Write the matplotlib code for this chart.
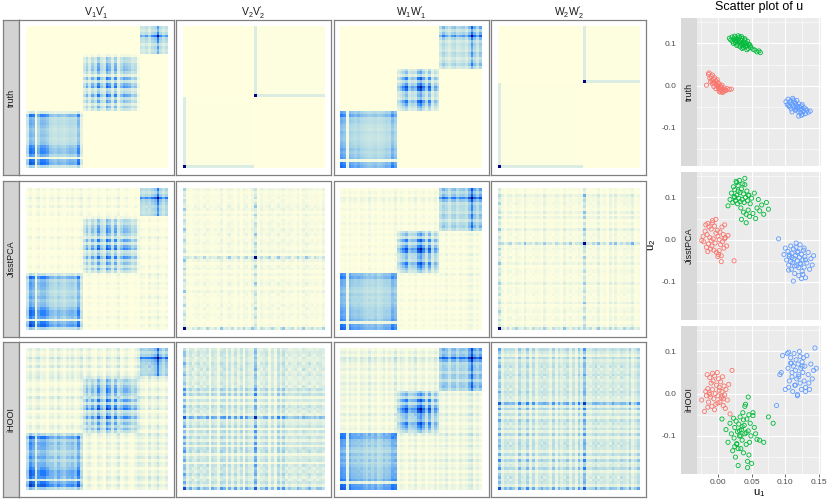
import numpy as np
import matplotlib
matplotlib.use("Agg")
import matplotlib.pyplot as plt
from matplotlib.colors import LinearSegmentedColormap

plt.rcParams['font.family'] = ['Liberation Sans', 'DejaVu Sans']
plt.rcParams['mathtext.fontset'] = 'custom'
plt.rcParams['mathtext.rm'] = 'Liberation Sans'

W, H = 830, 500

# ---------------- heatmap data (values in hundredths) ----------------
# truth loadings, one value per variable, with block membership
v1_truth = [35, 82, 75, 10, 55, 72, 70, 62, 45, 42, 40, 45, 42, 40, 45, 50, 48, 45, 72, 20,
            30, 50, 25, 55, 35, 75, 40, 30, 80, 65, 30, 70, 20, 45, 60, 55, 50, 35, 40, 10,
            40, 35, 45, 30, 50, 55, 100, 50, 35, 45]
v1_group = [0]*20 + [1]*20 + [2]*10
w1_truth = [78, 70, 10, 60, 55, 50, 55, 48, 45, 42, 40, 42, 45, 40, 42, 45, 50, 48, 70, 55,
            30, 40, 55, 75, 35, 45, 40, 80, 95, 60, 35, 70, 25, 45, 30,
            35, 55, 40, 30, 45, 50, 35, 40, 45, 35, 55, 100, 60, 40, 65]
w1_group = [0]*20 + [1]*15 + [2]*15

v2_truth = [100, 12, 12, 12, 12, 12, 12, 12, 12, 12, 12, 12, 12, 12, 12, 12, 12, 12, 12, 12, 12, 12, 12, 12, 12,
            100, 12, 12, 12, 12, 12, 12, 12, 12, 12, 12, 12, 12, 12, 12, 12, 12, 12, 12, 12, 12, 12, 12, 12, 12]
v2_group = [0]*25 + [1]*25
w2_truth = [100, 12, 12, 12, 12, 12, 12, 12, 12, 12, 12, 12, 12, 12, 12, 12, 12, 12, 12, 12,
            12, 12, 12, 12, 12, 12, 12, 12, 12, 12,
            100, 12, 12, 12, 12, 12, 12, 12, 12, 12, 12, 12, 12, 12, 12, 12, 12, 12, 12, 12]
w2_group = [0]*30 + [1]*20

# off-block leakage of the estimates
noise_v1_jisst = [12, 25, 8, 15, 30, 10, 20, 5, 18, 22, 10, 28, 15, 8, 20, 12, 25, 10, 18, 30,
                  5, 15, 22, 10, 8, 20, 12, 5, 25, 18, 10, 15, 30, 8, 12, 20, 10, 5, 15, 8,
                  28, 20, 10, 35, 15, 22, 40, 18, 12, 25]
noise_w1_jisst = [15, 20, 10, 25, 12, 18, 8, 22, 15, 10, 28, 12, 20, 8, 15, 25, 10, 18, 12, 30,
                  10, 22, 15, 8, 20, 12, 28, 10, 15, 22, 8, 18, 12, 25, 10,
                  20, 15, 30, 12, 22, 18, 10, 25, 15, 20, 35, 40, 15, 25, 12]
noise_v1_ihooi = [20, 35, 15, 30, 40, 18, 25, 10, 30, 35, 15, 40, 22, 12, 30, 18, 35, 15, 25, 40,
                  12, 25, 35, 15, 10, 30, 20, 8, 40, 28, 15, 22, 45, 12, 18, 30, 15, 10, 25, 40,
                  35, 30, 15, 45, 20, 30, 55, 25, 18, 35]
noise_w1_ihooi = [25, 30, 15, 35, 20, 28, 12, 30, 22, 15, 40, 18, 30, 12, 20, 35, 15, 28, 18, 45,
                  15, 30, 22, 12, 28, 18, 40, 15, 22, 30, 12, 25, 18, 35, 15,
                  30, 22, 40, 18, 30, 25, 15, 35, 22, 28, 45, 55, 20, 35, 18]

# second component estimates: two loading vectors each
v2a_jisst = [100, 10, 5, 15, 8, 20, 12, 5, 25, 10, 8, 15, 5, 30, 10, 12, 8, 20, 5, 15, 10, 25, 8, 12, 30,
             10, 5, 20, 15, 8, 12, 25, 10, 5, 18, 30, 8, 12, 20, 5, 15, 10, 28, 8, 12, 20, 5, 15, 10, 25]
v2b_jisst = [8, 15, 10, 5, 20, 12, 8, 25, 5, 15, 10, 8, 20, 12, 5, 15, 30, 8, 10, 20, 5, 12, 25, 8, 15,
             100, 10, 20, 8, 15, 25, 5, 12, 30, 10, 8, 15, 20, 5, 12, 25, 8, 10, 30, 15, 5, 20, 12, 8, 15]
w2a_jisst = [100, 12, 8, 20, 5, 15, 25, 10, 8, 18, 12, 5, 22, 10, 15, 8, 25, 12, 5, 20, 10, 15, 8, 30, 12,
             5, 18, 10, 25, 8, 15, 10, 20, 5, 12, 28, 8, 15, 10, 22, 5, 18, 12, 8, 25, 10, 15, 20, 8, 12]
w2b_jisst = [10, 20, 8, 15, 25, 5, 12, 18, 8, 30, 10, 15, 5, 20, 12, 8, 25, 10, 15, 5, 22, 12, 8, 18, 10,
             28, 5, 15, 12, 20, 100, 15, 8, 22, 12, 28, 10, 15, 5, 25, 12, 30, 8, 18, 10, 22, 15, 35, 8, 12]
v2a_ihooi = [80, 25, 40, 10, 30, 45, 15, 35, 20, 8, 40, 25, 15, 50, 30, 10, 35, 20, 45, 15, 25, 8, 40, 30, 20,
             55, 10, 35, 20, 45, 15, 30, 8, 40, 25, 50, 10, 35, 20, 15, 40, 30, 8, 25, 45, 20, 10, 35, 30, 15]
v2b_ihooi = [30, 10, 25, 40, 8, 20, 35, 15, 45, 10, 25, 30, 8, 20, 40, 15, 35, 10, 25, 20, 45, 8, 30, 15, 20,
             75, 25, 10, 35, 20, 8, 30, 15, 40, 10, 25, 35, 8, 20, 30, 15, 10, 45, 25, 8, 20, 35, 10, 25, 30]
w2a_ihooi = [75, 20, 35, 15, 45, 25, 10, 40, 30, 15, 50, 20, 35, 10, 25, 45, 15, 30, 20, 40, 10, 35, 25, 15, 45,
             20, 30, 10, 40, 25, 55, 15, 30, 20, 45, 10, 35, 25, 15, 40, 20, 30, 10, 45, 25, 15, 35, 20, 30, 40]
w2b_ihooi = [35, 15, 25, 40, 10, 30, 20, 45, 15, 25, 35, 10, 40, 20, 30, 15, 45, 25, 10, 35, 20, 30, 15, 40, 25,
             10, 35, 20, 45, 15, 70, 25, 10, 35, 20, 40, 15, 30, 25, 10, 45, 20, 35, 15, 30, 25, 40, 10, 20, 35]

row_names = ["truth", "JisstPCA", "iHOOI"]
col_names = [r"$\mathregular{V_1V_1^{\prime}}$", r"$\mathregular{V_2V_2^{\prime}}$",
             r"$\mathregular{W_1W_1^{\prime}}$", r"$\mathregular{W_2W_2^{\prime}}$"]

# ---------------- scatter data (thousandths) ----------------
truth_red_x = [-17, -14, -13, -12, -10, -9, -8, -7, -6, -5, -4, -3, -2, -1, 0, 0, 1, 2, 3, 4,
               5, 6, 7, 8, 9, 10, 12, 14, 17, 20, -11, -6, -3, 2, 5, -8, -1, 3, 7, 11]
truth_red_y = [1, 27, 30, 18, 22, 13, 25, 8, 15, 19, 5, 11, 2, 14, -3, 7, -6, 4, -9, -2,
               -12, 1, -8, -14, -5, -10, -11, -7, -9, -8, 9, -2, -7, -13, -4, 4, 0, -15, -16, -12]
truth_green_x = [17, 19, 21, 22, 24, 25, 26, 27, 28, 29, 30, 31, 32, 33, 34, 35, 36, 37, 38, 39,
                 40, 41, 42, 43, 44, 45, 47, 49, 52, 55, 58, 61, 63, 23, 28, 33, 38, 43, 48, 30,
                 35, 40, 45, 26, 36]
truth_green_y = [112, 108, 115, 104, 110, 117, 101, 113, 106, 98, 110, 103, 115, 96, 107, 100, 112, 94, 104, 99,
                 108, 92, 101, 95, 105, 88, 97, 90, 86, 84, 80, 82, 78, 100, 95, 92, 90, 85, 94, 118,
                 116, 111, 98, 106, 88]
truth_blue_x = [101, 103, 104, 106, 107, 108, 109, 110, 111, 112, 113, 114, 115, 116, 117, 118, 119, 120, 121, 122,
                123, 124, 125, 126, 127, 128, 130, 132, 134, 137, 105, 110, 115, 120, 125, 130, 112, 118, 124, 116]
truth_blue_y = [-38, -45, -32, -50, -41, -36, -55, -44, -30, -48, -52, -39, -58, -46, -35, -53, -61, -43, -50, -57,
                -64, -48, -55, -68, -60, -52, -66, -58, -63, -60, -47, -62, -42, -72, -45, -55, -34, -49, -70, -56]

jisst_red_x = [-24, -22, -21, -19, -18, -17, -16, -15, -14, -13, -12, -11, -10, -9, -8, -7, -6, -5, -4, -3,
               -2, -1, 0, 1, 2, 3, 4, 5, 6, 7, 8, 9, 10, 11, 13, 15, -15, -8, 0, 5, 10, -3, 2, -10, 24]
jisst_red_y = [-2, 8, -5, 20, 35, -18, 12, 38, -10, 30, 5, -22, 25, -15, 40, 2, -25, 32, -8, 15,
               -30, 22, 8, -35, 0, 18, -12, -38, 30, -5, 12, -20, 35, 5, -15, 10, -28, 45, -40, -52,
               2, 48, -26, -2, -50]
jisst_green_x = [15, 18, 20, 22, 23, 24, 25, 26, 27, 28, 29, 30, 31, 32, 33, 34, 35, 36, 37, 38,
                 39, 40, 41, 42, 43, 44, 45, 46, 47, 48, 50, 52, 54, 56, 58, 60, 62, 65, 68, 72,
                 75, 28, 35, 42, 30, 38, 45, 25, 40, 33]
jisst_green_y = [80, 95, 110, 88, 125, 102, 118, 92, 138, 105, 85, 128, 98, 140, 112, 75, 120, 95, 132, 108,
                 88, 145, 100, 60, 115, 92, 70, 105, 55, 85, 98, 62, 110, 50, 75, 95, 68, 82, 60, 88,
                 72, 135, 48, 40, 115, 65, 105, 100, 130, 90]
jisst_blue_x = [90, 98, 100, 102, 104, 105, 106, 108, 109, 110, 111, 112, 113, 114, 115, 116, 117, 118, 119, 120,
                121, 122, 123, 124, 125, 126, 127, 128, 129, 130, 132, 134, 136, 138, 140, 142, 108, 112, 116, 120,
                124, 128, 105, 110, 118, 122, 126, 114, 130, 106]
jisst_blue_y = [2, -35, -20, -48, -28, -60, -40, -15, -70, -32, -55, -22, -45, -80, -38, -18, -62, -50, -28, -85,
                -42, -12, -58, -35, -75, -48, -25, -65, -40, -90, -55, -30, -70, -45, -60, -38, -52, -98, -8, -66,
                -92, -20, -72, -42, -30, -56, -82, -62, -48, -36]

ihooi_red_x = [-24, -20, -18, -17, -16, -15, -14, -13, -12, -11, -10, -9, -8, -7, -6, -5, -4, -3, -2, -1,
               0, 1, 2, 3, 4, 5, 6, 7, 8, 9, 10, 11, 12, 14, 16, 18, 21, -12, -5, 2, 8, -8, 0, 6, -15]
ihooi_red_y = [-15, -42, 5, -5, 45, 12, -20, 2, 38, -8, 25, -30, 10, 30, -12, 42, 0, -25, 20, 50,
               -5, 35, 15, -20, 28, -10, 5, 40, -28, 18, -3, -35, 10, -15, 22, -48, 55, -2, -38, 8,
               -12, 48, -22, -6, -32]
ihooi_green_x = [6, 12, 15, 18, 20, 22, 23, 24, 25, 26, 27, 28, 29, 30, 31, 32, 33, 34, 35, 36,
                 37, 38, 39, 40, 41, 42, 43, 44, 45, 46, 47, 48, 49, 50, 52, 54, 56, 58, 62, 68,
                 75, 82, 30, 36, 42, 28, 34, 40, 46, 25, 38, 44, 32, 52, 45]
ihooi_green_y = [-60, -85, -115, -70, -95, -135, -58, -105, -80, -150, -65, -120, -90, -170, -72, -100, -55, -130, -85, -110,
                 -45, -140, -75, -95, -25, -120, -60, -160, -88, -50, -115, -70, -100, -165, -45, -80, -95, -108, -110, -115,
                 -55, -70, -130, -78, -92, -118, -100, -30, -145, -125, -62, -175, -88, -52, -8]
ihooi_blue_x = [87, 92, 94, 96, 100, 103, 104, 105, 106, 108, 109, 110, 111, 112, 113, 114, 115, 116, 117, 118,
                119, 120, 121, 122, 123, 124, 125, 126, 127, 128, 129, 130, 132, 134, 136, 138, 140, 142, 144, 146,
                110, 115, 120, 125, 130, 108, 118, 122, 135, 105]
ihooi_blue_y = [-28, 45, 50, 90, 10, 95, 60, 15, 30, 85, 72, 40, 5, 65, 95, 20, 55, 80, 35, -5,
                70, 45, 100, 25, 60, 10, 75, 50, 85, 30, 65, 15, 90, 45, 10, 70, 35, 55, 108, 60,
                50, 20, 40, 65, 5, 72, -2, 88, 25, 98]

cluster_colors = ["#F8766D", "#00BA38", "#619CFF"]


# ---------------- build matrices ----------------
def block_mat(v, g):
    v = np.array(v) / 100.0
    g = np.array(g)
    mask = (g[:, None] == g[None, :])
    return np.abs(np.outer(v, v)) * mask

def est_mat(v, g, n):
    n = np.array(n) / 100.0
    return block_mat(v, g) + np.abs(np.outer(n, n))

def two_vec(a, b):
    a = np.array(a) / 100.0
    b = np.array(b) / 100.0
    return np.abs(np.outer(a, a)) + np.abs(np.outer(b, b))

mats = [
    [block_mat(v1_truth, v1_group), block_mat(v2_truth, v2_group),
     block_mat(w1_truth, w1_group), block_mat(w2_truth, w2_group)],
    [est_mat(v1_truth, v1_group, noise_v1_jisst), two_vec(v2a_jisst, v2b_jisst),
     est_mat(w1_truth, w1_group, noise_w1_jisst), two_vec(w2a_jisst, w2b_jisst)],
    [est_mat(v1_truth, v1_group, noise_v1_ihooi), two_vec(v2a_ihooi, v2b_ihooi),
     est_mat(w1_truth, w1_group, noise_w1_ihooi), two_vec(w2a_ihooi, w2b_ihooi)],
]

cmap = LinearSegmentedColormap.from_list(
    "yb", [(0.0, "#FFFFE0"), (0.02, "#FDFEE0"), (0.25, "#ADD8E6"), (0.55, "#1E7BFF"), (1.0, "#000080")])


def rect(x0, y0, x1, y1):
    return [x0 / W, 1 - y1 / H, (x1 - x0) / W, (y1 - y0) / H]


fig = plt.figure(figsize=(W / 100, H / 100), dpi=100)

col_x = [19, 176, 333.5, 491]
row_y = [20, 181.5, 342]
pw, ph = 155, 155
for r in range(3):
    y0 = row_y[r]
    sax = fig.add_axes(rect(3, y0, 19, y0 + ph))
    sax.set_facecolor("#D3D3D3")
    sax.set_xticks([]); sax.set_yticks([])
    for s in sax.spines.values():
        s.set_color("#808080"); s.set_linewidth(0.9)
    sax.text(0.5, 0.5, row_names[r], rotation=90, ha="center", va="center",
             fontsize=6.5, color="#1A1A1A", transform=sax.transAxes)
    for c in range(4):
        x0 = col_x[c]
        ax = fig.add_axes(rect(x0, y0, x0 + pw, y0 + ph))
        M = mats[r][c]
        ax.imshow(np.clip(M, 0, 1), origin="lower", cmap=cmap, vmin=0, vmax=1,
                  interpolation="nearest", aspect="auto")
        ax.set_xlim(-2.8, 51.8)
        ax.set_ylim(-2.8, 51.8)
        ax.set_xticks([]); ax.set_yticks([])
        for s in ax.spines.values():
            s.set_color("#808080"); s.set_linewidth(0.9)
        if r == 0:
            fig.text((x0 + pw / 2) / W, 1 - 13 / H, col_names[c], ha="center", va="center",
                     fontsize=7.5, color="#1A1A1A")

# ---------------- scatter panels ----------------
scatter_sets = [
    [(truth_red_x, truth_red_y), (truth_green_x, truth_green_y), (truth_blue_x, truth_blue_y)],
    [(jisst_red_x, jisst_red_y), (jisst_green_x, jisst_green_y), (jisst_blue_x, jisst_blue_y)],
    [(ihooi_red_x, ihooi_red_y), (ihooi_green_x, ihooi_green_y), (ihooi_blue_x, ihooi_blue_y)],
]
sc_y = [18, 172, 326]
sc_h = 148
for r in range(3):
    y0 = sc_y[r]
    sax = fig.add_axes(rect(681, y0, 697, y0 + sc_h))
    sax.set_facecolor("#D9D9D9")
    sax.set_xticks([]); sax.set_yticks([])
    for s in sax.spines.values():
        s.set_visible(False)
    sax.text(0.5, 0.5, row_names[r], rotation=90, ha="center", va="center",
             fontsize=6.5, color="#1A1A1A", transform=sax.transAxes)

    ax = fig.add_axes(rect(697, y0, 821, y0 + sc_h))
    ax.set_facecolor("#EBEBEB")
    for k, (xs, ys) in enumerate(scatter_sets[r]):
        ax.scatter(np.array(xs) / 1000, np.array(ys) / 1000, s=9, facecolors="none",
                   edgecolors=cluster_colors[k], linewidths=0.6, zorder=3)
    ax.set_xlim(-0.031, 0.153)
    ax.set_ylim(-0.19, 0.16)
    ax.set_xticks([0.0, 0.05, 0.10, 0.15])
    ax.set_xticks([-0.025, 0.025, 0.075, 0.125], minor=True)
    ax.set_yticks([-0.1, 0.0, 0.1])
    ax.set_yticks([-0.15, -0.05, 0.05, 0.15], minor=True)
    ax.grid(True, which="major", color="white", linewidth=0.8)
    ax.grid(True, which="minor", color="white", linewidth=0.4)
    ax.set_axisbelow(True)
    for s in ax.spines.values():
        s.set_visible(False)
    ax.tick_params(which="major", length=2, width=0.5, color="#333333",
                   labelsize=6, labelcolor="#4D4D4D", pad=1.5)
    ax.tick_params(which="minor", length=0)
    ax.set_yticklabels(["-0.1", "0.0", "0.1"])
    if r < 2:
        ax.tick_params(axis="x", which="major", length=0, labelbottom=False)
    else:
        ax.set_xticklabels(["0.00", "0.05", "0.10", "0.15"])
    # y labels sit left of the strip
    ax.tick_params(axis="y", length=0, pad=15)

fig.text(759 / W, 1 - 7 / H, "Scatter plot of u", ha="center", va="center",
         fontsize=9, color="black")
fig.text(652 / W, 1 - 245 / H, r"$\mathregular{u_2}$", ha="center", va="center",
         rotation=90, fontsize=8, color="black")
fig.text(759 / W, 1 - 493 / H, r"$\mathregular{u_1}$", ha="center", va="center",
         fontsize=8, color="black")

fig.savefig("out.png", dpi=100)
